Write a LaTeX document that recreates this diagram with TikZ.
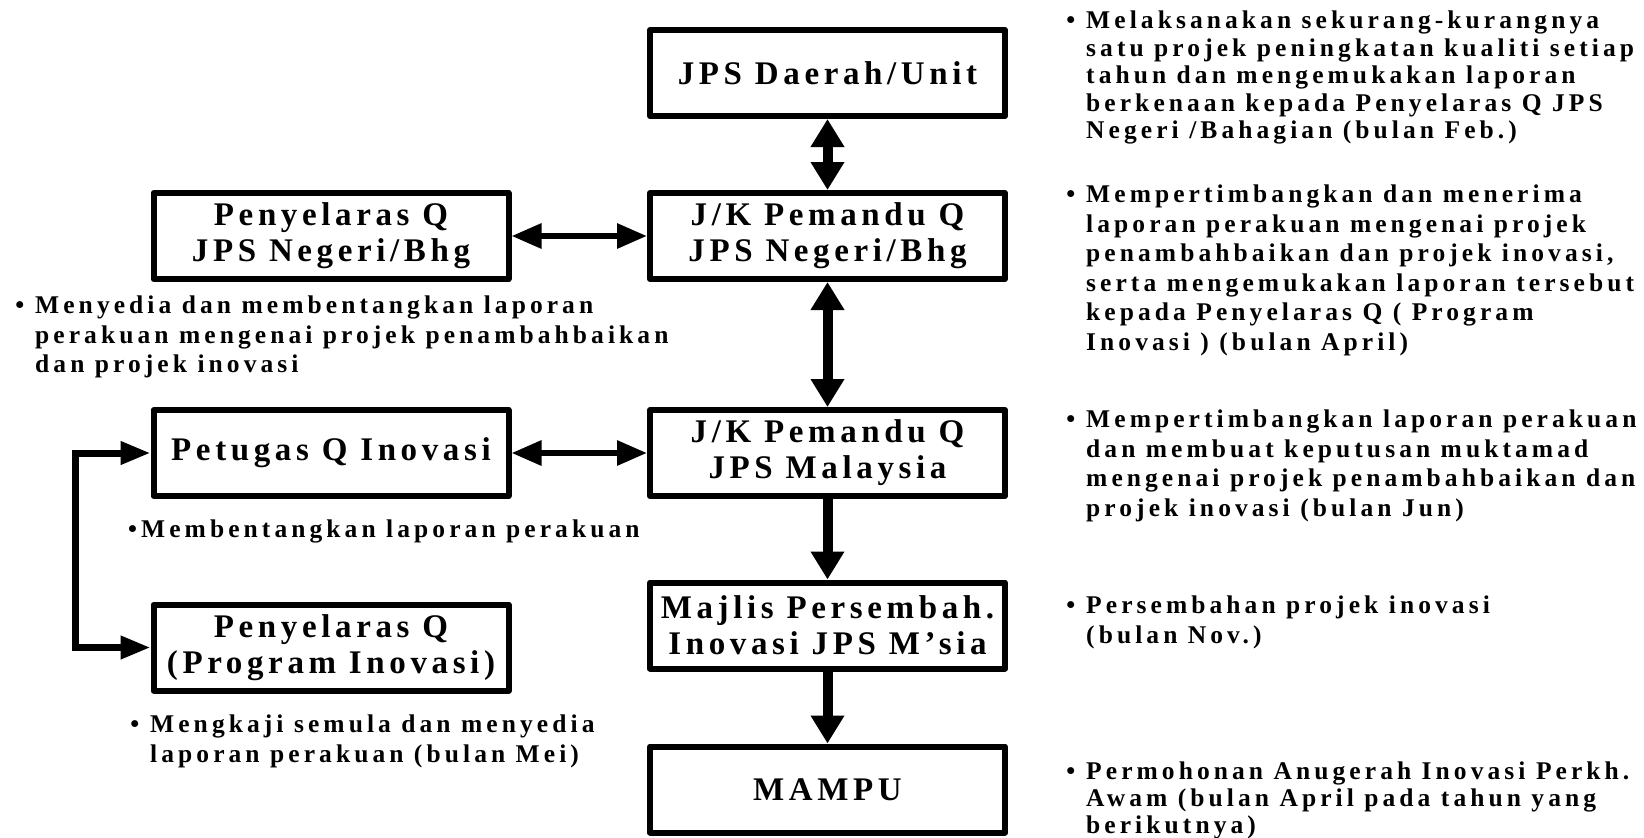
\documentclass[tikz,border=0pt]{standalone}
\usepackage{fontspec}
\setmainfont{Liberation Serif}
\newfontfamily\boxfont[LetterSpace=14]{Liberation Serif}
\newfontfamily\notefont[LetterSpace=16]{Liberation Serif}
\usetikzlibrary{arrows.meta}
\newcommand{\bul}{\llap{\textbullet\hspace{11pt}}}

\begin{document}
\begin{tikzpicture}[x=1pt,y=-1pt,
  unitbox/.style={draw,line width=6pt,line join=round,minimum width=355pt,minimum height=86pt,inner sep=0pt,align=center,
    font=\boxfont\bfseries\fontsize{33pt}{36pt}\selectfont},
  note/.style={anchor=north west,inner sep=0pt,align=left,font=\notefont\bfseries\fontsize{25.5pt}{29.5pt}\selectfont},
  vlink/.style={line width=10pt,>={Triangle[length=28pt,width=32pt]}},
  hlink/.style={line width=6pt,>={Triangle[length=30pt,width=24pt]}},
  looplink/.style={line width=7pt,>={Triangle[length=30pt,width=22pt]}}]
  \path[fill=white] (0,0) rectangle (1644,838);
  \useasboundingbox (0,0) rectangle (1644,838);

  \node[unitbox] (daerah) at (827.5,73) {JPS Daerah/Unit};
  \node[unitbox] (jkneg) at (827.5,236) {J/K Pemandu Q\\JPS Negeri/Bhg};
  \node[unitbox] (jkmsia) at (827.5,453) {J/K Pemandu Q\\JPS Malaysia};
  \node[unitbox] (majlis) at (827.5,625.5) {Majlis Persembah.\\Inovasi JPS M’sia};
  \node[unitbox] (mampu) at (827.5,789.5) {MAMPU};
  \node[unitbox] (pqneg) at (331,236) {Penyelaras Q\\JPS Negeri/Bhg};
  \node[unitbox] (petugas) at (331,453) {Petugas Q Inovasi};
  \node[unitbox] (pqprog) at (331,647.5) {Penyelaras Q\\(Program Inovasi)};

  \draw[vlink,<->] (daerah) -- (jkneg);
  \draw[vlink,<->] (jkneg) -- (jkmsia);
  \draw[vlink,->] (jkmsia) -- (majlis);
  \draw[vlink,->] (majlis) -- (mampu);
  \draw[hlink,<->] (pqneg) -- (jkneg);
  \draw[hlink,<->] (petugas) -- (jkmsia);
  \draw[looplink,<->] (petugas.west) -- ++(-75,0) |- (pqprog.west);

  \node[note,font=\notefont\bfseries\fontsize{25.5pt}{27.5pt}\selectfont] (notedaerah) at (1086,11)
    {\bul Melaksanakan sekurang-kurangnya\\satu projek peningkatan kualiti setiap\\tahun dan mengemukakan laporan\\berkenaan kepada Penyelaras Q JPS\\Negeri /Bahagian (bulan Feb.)};
  \node[note] (notejkneg) at (1086,185)
    {\bul Mempertimbangkan dan menerima\\laporan perakuan mengenai projek\\penambahbaikan dan projek inovasi,\\serta mengemukakan laporan tersebut\\kepada Penyelaras Q ( Program\\Inovasi ) (bulan April)};
  \node[note] (notejkmsia) at (1086,410)
    {\bul Mempertimbangkan laporan perakuan\\dan membuat keputusan muktamad\\mengenai projek penambahbaikan dan\\projek inovasi (bulan Jun)};
  \node[note] (notemajlis) at (1086,596)
    {\bul Persembahan projek inovasi\\(bulan Nov.)};
  \node[note,font=\notefont\bfseries\fontsize{25.5pt}{27pt}\selectfont] (notemampu) at (1086,762)
    {\bul Permohonan Anugerah Inovasi Perkh.\\Awam (bulan April pada tahun yang\\berikutnya)};
  \node[note] (notepqneg) at (35,296)
    {\bul Menyedia dan membentangkan laporan\\perakuan mengenai projek penambahbaikan\\dan projek inovasi};
  \node[note] (notepetugas) at (128,520)
    {\textbullet Membentangkan laporan perakuan};
  \node[note] (notepqprog) at (150,715)
    {\bul Mengkaji semula dan menyedia\\laporan perakuan (bulan Mei)};
\end{tikzpicture}
\end{document}
